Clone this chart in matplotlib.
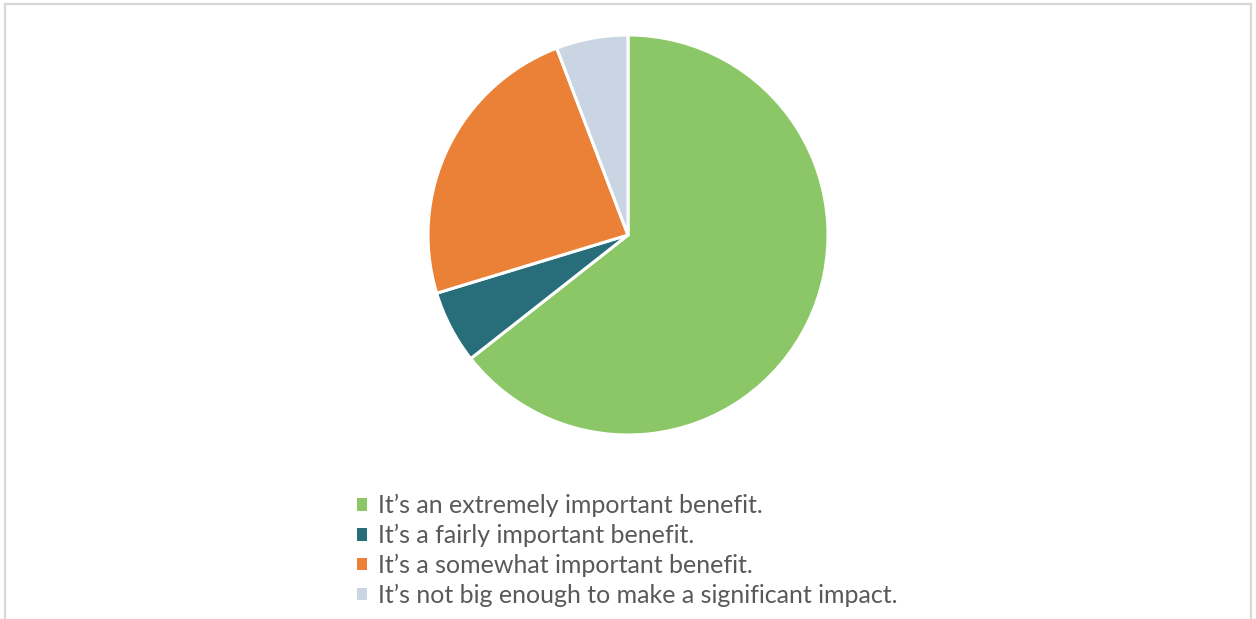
import matplotlib
matplotlib.use("Agg")
import matplotlib.pyplot as plt
from matplotlib.patches import Patch
from matplotlib.lines import Line2D

labels = [
    "It\u2019s an extremely important benefit.",
    "It\u2019s a fairly important benefit.",
    "It\u2019s a somewhat important benefit.",
    "It\u2019s not big enough to make a significant impact.",
]
values = [64.4, 5.9, 23.9, 5.8]
colors = ["#8BC766", "#286D7A", "#EA8137", "#C9D5E3"]

W, H = 1256, 619
fig = plt.figure(figsize=(W / 100, H / 100), dpi=100)

# frame
def px(x, y):
    return x / W, 1 - y / H
border = "#D9D9D9"
for (x0, y0, x1, y1) in [(4.5, 4, 4.5, 640), (4.5, 4, 1250.5, 4), (1250.5, 4, 1250.5, 640)]:
    a, b = px(x0, y0)
    c, d = px(x1, y1)
    fig.add_artist(Line2D([a, c], [b, d], color=border, lw=1.6, transform=fig.transFigure))

cx, cy, r = 628, 235, 200
ax = fig.add_axes([(cx - r) / W, 1 - (cy + r) / H, 2 * r / W, 2 * r / H])
ax.pie(values, colors=colors, startangle=90, counterclock=False,
       wedgeprops=dict(edgecolor="white", linewidth=2.2))
ax.set_xlim(-1, 1)
ax.set_ylim(-1, 1)
ax.set_aspect("equal")
ax.axis("off")

handles = [Patch(facecolor=c, edgecolor="none") for c in colors]
fig.legend(handles, labels, loc="upper left", bbox_to_anchor=px(357, 494),
           frameon=False, prop=dict(family="Lato", size=18),
           labelcolor="#595959", handlelength=0.4, handleheight=0.4,
           handletextpad=0.42, labelspacing=0.26, borderaxespad=0, borderpad=0)

fig.savefig("out.png", dpi=100, facecolor="white")
